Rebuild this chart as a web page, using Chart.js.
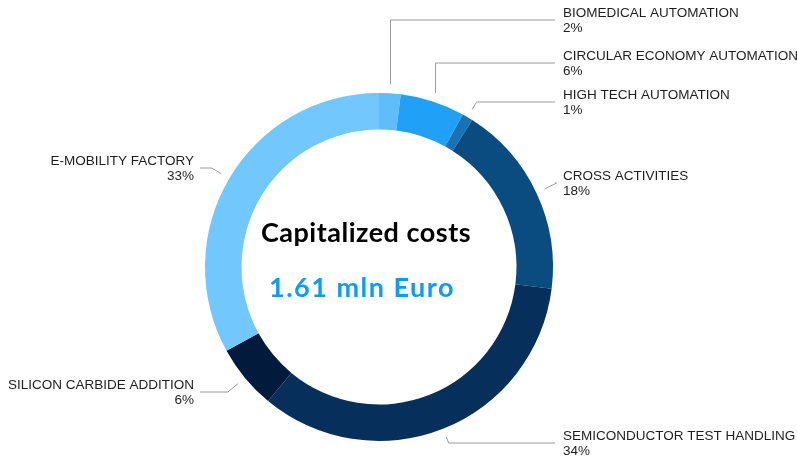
<!DOCTYPE html>
<html>
<head>
<meta charset="utf-8">
<script src="https://cdn.jsdelivr.net/npm/chart.js@4/dist/chart.umd.min.js"></script>
<style>
  html, body { margin: 0; padding: 0; background: #fff; }
  #wrap { width: 797px; height: 460px; position: relative; }
</style>
</head>
<body>
<div id="wrap"><canvas id="chart"></canvas></div>
<script>
const categories = [
    'BIOMEDICAL AUTOMATION',
    'CIRCULAR ECONOMY AUTOMATION',
    'HIGH TECH AUTOMATION',
    'CROSS ACTIVITIES',
    'SEMICONDUCTOR TEST HANDLING',
    'SILICON CARBIDE ADDITION',
    'E-MOBILITY FACTORY',
];
const shares = [2, 6, 1, 18, 34, 6, 33];
const sliceColors = ['#5fbdf9', '#20a0f7', '#1a72b6', '#0b4c80', '#062f5c', '#021a3b', '#72c7fd'];
const centerTitle = 'Capitalized costs';
const centerValue = '1.61 mln Euro';

// row of each callout's leader line (canvas y), one per slice
const calloutRows = [20, 63, 102, 183, 443, 392, 168];

const calloutPlugin = {
    id: 'callouts',
    afterDatasetsDraw(chart) {
        const ctx = chart.ctx;
        const arcs = chart.getDatasetMeta(0).data;
        const rightX = 555;
        const leftX = 200;
        ctx.save();
        arcs.forEach((arc, i) => {
            const mid = (arc.startAngle + arc.endAngle) / 2;
            const r = arc.outerRadius + 9;
            const sx = arc.x + Math.cos(mid) * r;
            const sy = arc.y + Math.sin(mid) * r;
            const rowY = calloutRows[i];
            const right = Math.cos(mid) >= 0;
            let ex;
            if (Math.abs(rowY - sy) > 20) {
                ex = sx;
            } else {
                const lean = Math.abs(rowY - sy) / Math.max(Math.abs(Math.sin(mid)), 0.2) * Math.abs(Math.cos(mid));
                ex = sx + (right ? 1 : -1) * Math.min(lean, 12);
            }
            ctx.strokeStyle = '#9a9a9a';
            ctx.lineWidth = 1;
            ctx.beginPath();
            ctx.moveTo(sx, sy);
            ctx.lineTo(ex, rowY);
            ctx.lineTo(right ? rightX : leftX, rowY);
            ctx.stroke();

            ctx.fillStyle = '#1e1e1e';
            ctx.font = '13.5px "Liberation Sans", Arial, sans-serif';
            ctx.textBaseline = 'middle';
            ctx.textAlign = right ? 'left' : 'right';
            const tx = right ? rightX + 8 : leftX - 6;
            ctx.fillText(categories[i], tx, rowY - 7);
            ctx.fillText(shares[i] + '%', tx, rowY + 8);
        });

        // centre caption
        const a = arcs[0];
        ctx.textAlign = 'center';
        ctx.textBaseline = 'middle';
        ctx.fillStyle = '#000';
        ctx.font = 'bold 27px Lato, "Open Sans", sans-serif';
        ctx.letterSpacing = '0.5px';
        ctx.fillText(centerTitle, a.x - 13, a.y - 34);
        ctx.fillStyle = '#0d9bf5';
        ctx.letterSpacing = '1.5px';
        ctx.fillText(centerValue, a.x - 17, a.y + 21);
        ctx.restore();
    },
};

new Chart(document.getElementById('chart'), {
    type: 'doughnut',
    data: {
        labels: categories,
        datasets: [
            {
                data: shares,
                backgroundColor: sliceColors,
                borderWidth: 0,
            },
        ],
    },
    options: {
        responsive: true,
        maintainAspectRatio: false,
        animation: false,
        cutout: '79%',
        layout: {
            padding: { left: 205, right: 244, top: 93, bottom: 19 },
        },
        plugins: {
            legend: { display: false },
            tooltip: { enabled: false },
        },
    },
    plugins: [calloutPlugin],
});
</script>
</body>
</html>
